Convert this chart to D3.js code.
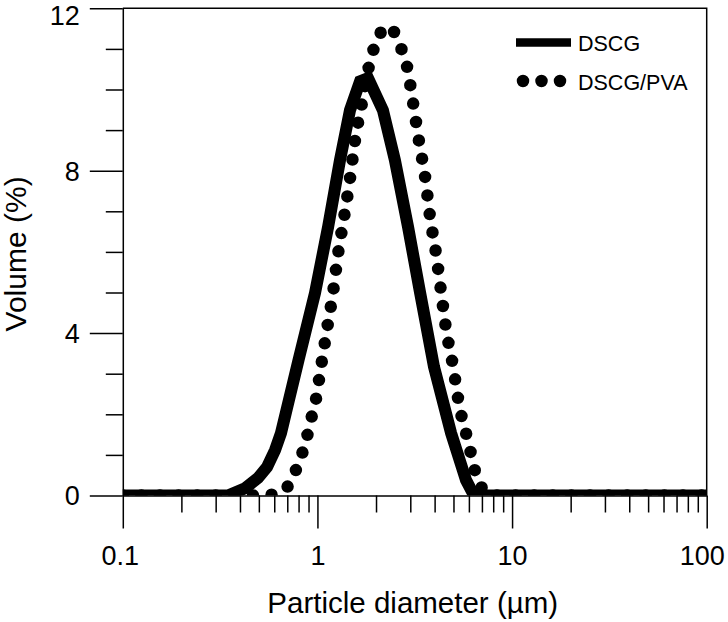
<!DOCTYPE html>
<html>
<head>
<meta charset="utf-8">
<script src="https://cdn.jsdelivr.net/npm/d3@7"></script>
<style>
  html, body { margin: 0; padding: 0; background: #fff; }
  svg { display: block; }
</style>
</head>
<body>
<svg id="chart" width="728" height="622"></svg>
<script>
const seriesNames = ["DSCG", "DSCG/PVA"];

// particle diameter (um) / volume (%)
const dscgDiameter = [0.1, 0.347, 0.425, 0.495, 0.551, 0.606, 0.650, 0.694, 0.800, 0.972, 1.135, 1.306, 1.47, 1.656, 1.82, 2.17, 2.50, 2.92, 3.37, 3.97, 4.86, 5.80, 6.38, 100];
const dscgVolume   = [0, 0, 0.18, 0.43, 0.70, 1.12, 1.54, 2.11, 3.34, 4.99, 6.62, 8.26, 9.49, 10.2, 10.28, 9.49, 8.26, 6.62, 4.99, 3.17, 1.54, 0.38, 0, 0];

const pvaDiameter = [0.1, 0.525, 0.658, 0.749, 0.814, 0.874, 0.916, 0.972, 1.043, 1.120, 1.203, 1.276, 1.371, 1.471, 1.561, 1.695, 1.841, 1.953, 2.31, 2.69, 2.89, 3.10, 3.33, 3.58, 3.79, 4.07, 4.32, 4.58, 4.98, 5.34, 5.94, 6.61, 7.43, 7.8, 100];
const pvaVolume   = [0, 0, 0.09, 0.46, 0.90, 1.34, 1.79, 2.25, 3.17, 4.10, 5.01, 5.95, 6.86, 7.82, 8.76, 9.67, 10.58, 11.02, 11.55, 11.02, 10.55, 9.67, 8.71, 7.82, 6.86, 5.95, 5.01, 4.10, 3.17, 2.25, 1.34, 0.43, 0.06, 0, 0];

const xTickValues = [0.1, 1, 10, 100];
const xTickLabels = ["0.1", "1", "10", "100"];
const yTickValues = [0, 4, 8, 12];
const yTickLabels = ["0", "4", "8", "12"];

const FONT = "'Liberation Sans', Arial, Helvetica, sans-serif";
const INK = "#000";

const svg = d3.select("#chart");

const x = d3.scaleLog().domain([0.1, 100]).range([122.8, 706.7]);
const y = d3.scaleLinear().domain([0, 12]).range([495.5, 8.3]);

const [x0, x1] = x.range();
const [y0, y1] = y.range();

// clip for the curves
svg.append("defs").append("clipPath")
  .attr("id", "plot-clip")
  .append("rect")
  .attr("x", x0).attr("y", y1)
  .attr("width", x1 - x0).attr("height", y0 - y1);

const plot = svg.append("g").attr("clip-path", "url(#plot-clip)");

const line = d3.line()
  .x(d => x(d[0]))
  .y(d => y(d[1]));

const dscg = d3.zip(dscgDiameter, dscgVolume);
const pva = d3.zip(pvaDiameter, pvaVolume);

plot.append("path")
  .datum(pva)
  .attr("fill", "none")
  .attr("stroke", INK)
  .attr("stroke-width", 12.5)
  .attr("stroke-linecap", "round")
  .attr("stroke-dasharray", "0 18.6")
  .attr("d", line.curve(d3.curveMonotoneX));

plot.append("path")
  .datum(dscg)
  .attr("fill", "none")
  .attr("stroke", INK)
  .attr("stroke-width", 12)
  .attr("stroke-linejoin", "miter")
  .attr("d", line.curve(d3.curveLinear));

// frame (top, right)
svg.append("path")
  .attr("d", `M${x0},${y1}H${x1}V${y0}`)
  .attr("fill", "none")
  .attr("stroke", INK)
  .attr("stroke-width", 1.5);

// x axis
const xMinor = x.ticks().filter(v => !xTickValues.includes(v));
svg.append("g")
  .attr("transform", `translate(0,${y0})`)
  .call(d3.axisBottom(x).tickValues(xMinor).tickSize(17).tickSizeOuter(0).tickFormat(""))
  .call(g => g.select(".domain").remove());

const xAxis = svg.append("g")
  .attr("transform", `translate(0,${y0})`)
  .call(d3.axisBottom(x).tickValues(xTickValues).tickSize(33).tickSizeOuter(0)
    .tickPadding(17).tickFormat((d, i) => xTickLabels[i]));

// y axis
const yMinor = y.ticks(12).filter(v => !yTickValues.includes(v));
svg.append("g")
  .attr("transform", `translate(${x0},0)`)
  .call(d3.axisLeft(y).tickValues(yMinor).tickSize(17).tickSizeOuter(0).tickFormat(""))
  .call(g => g.select(".domain").remove());

const yAxis = svg.append("g")
  .attr("transform", `translate(${x0},0)`)
  .call(d3.axisLeft(y).tickValues(yTickValues).tickSize(33).tickSizeOuter(0)
    .tickPadding(10).tickFormat((d, i) => yTickLabels[i]));

svg.selectAll(".domain, .tick line")
  .attr("stroke", INK)
  .attr("stroke-width", 1.5);

svg.selectAll(".tick text")
  .attr("font-family", FONT)
  .attr("font-size", 27)
  .attr("fill", INK);

// top label is pushed down to stay inside the page
yAxis.selectAll(".tick text").attr("dy", (d, i) => i === yTickValues.length - 1 ? "0.6em" : "0.35em");
// end labels sit a little left of their ticks in the original
xAxis.selectAll(".tick text").attr("dx", (d, i) => i === 0 ? -3 : (i === xTickValues.length - 1 ? -5 : 0));

// axis titles
svg.append("text")
  .attr("x", (x0 + x1) / 2 - 2)
  .attr("y", 613)
  .attr("text-anchor", "middle")
  .attr("font-family", FONT)
  .attr("font-size", 29.5)
  .attr("fill", INK)
  .text("Particle diameter (\u00b5m)");

svg.append("text")
  .attr("transform", `translate(26,${(y0 + y1) / 2 + 2}) rotate(-90)`)
  .attr("text-anchor", "middle")
  .attr("font-family", FONT)
  .attr("font-size", 30)
  .attr("fill", INK)
  .text("Volume (%)");

// legend
const legend = svg.append("g");

legend.append("line")
  .attr("x1", 516).attr("x2", 571)
  .attr("y1", 42.5).attr("y2", 42.5)
  .attr("stroke", INK)
  .attr("stroke-width", 8.5);

legend.append("path")
  .attr("d", "M523,81H561")
  .attr("stroke", INK)
  .attr("stroke-width", 12.5)
  .attr("stroke-linecap", "round")
  .attr("stroke-dasharray", "0 18.5");

legend.selectAll("text.legend-label")
  .data(seriesNames)
  .join("text")
  .attr("class", "legend-label")
  .attr("x", 578)
  .attr("y", (d, i) => 51 + i * 39)
  .attr("font-family", FONT)
  .attr("font-size", 21.5)
  .attr("fill", INK)
  .text(d => d);
</script>
</body>
</html>
